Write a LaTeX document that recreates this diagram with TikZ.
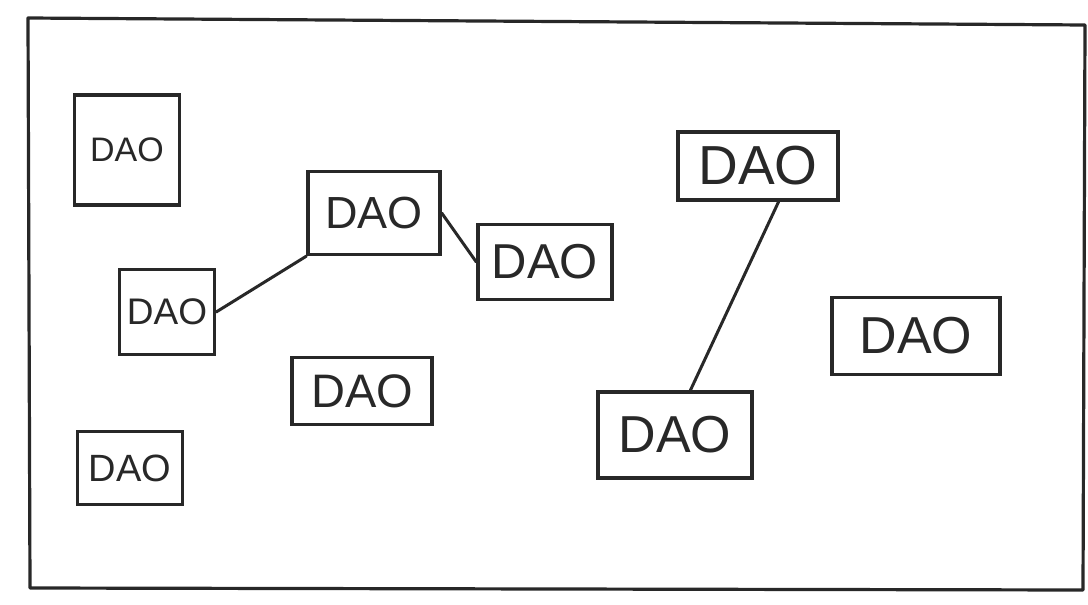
\documentclass[tikz,border=0pt]{standalone}
\usepackage{fontspec}
\setmainfont{Liberation Sans}
\definecolor{ink}{RGB}{40,40,40}
\tikzset{
  dao/.style={draw=ink, line width=3.4pt, text=ink, inner sep=0pt, align=center},
  link/.style={draw=ink, line width=3pt, line cap=round},
  frame/.style={draw=ink, line width=3.2pt, line join=round}
}
\newcommand{\fs}[1]{\fontsize{#1}{#1}\selectfont}
\begin{document}
\begin{tikzpicture}[x=1pt,y=-1pt]
\useasboundingbox (0,0) rectangle (1088,605);
\draw[frame] (28,18) -- (1085,25) -- (1083,590) -- (30,588) -- cycle;
\node[dao, minimum width=105, minimum height=110] (b1) at (127,150) {\fs{34}DAO};
\node[dao, minimum width=132, minimum height=83] (b2) at (374,213) {\fs{45}DAO};
\node[dao, minimum width=134, minimum height=75] (b3) at (545,262) {\fs{49}DAO};
\node[dao, minimum width=95, minimum height=85] (b4) at (167,312) {\fs{37}DAO};
\node[dao, minimum width=140, minimum height=67] (b5) at (362,391) {\fs{47}DAO};
\node[dao, minimum width=105, minimum height=73] (b6) at (130,468) {\fs{38}DAO};
\node[dao, minimum width=160, minimum height=68] (b7) at (758,166) {\fs{55}DAO};
\node[dao, minimum width=154, minimum height=86] (b8) at (675,435) {\fs{52}DAO};
\node[dao, minimum width=168, minimum height=77] (b9) at (916,336) {\fs{52}DAO};
\draw[link] (b4.east) -- (b2.south west);
\draw[link] (b2.east) -- (b3.west);
\draw[link] (b7.-60) -- (b8.71);
\end{tikzpicture}
\end{document}
